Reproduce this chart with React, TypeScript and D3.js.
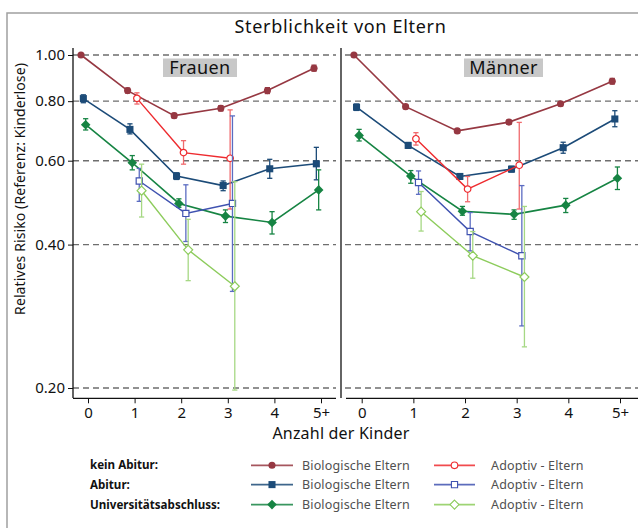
import React, { useEffect, useRef } from 'react';
import * as d3 from 'd3';

// Anzahl der Kinder
const kinder = ['0', '1', '2', '3', '4', '5+'];
const yTicks = [0.2, 0.4, 0.6, 0.8, 1.0];

// Frauen
const fKeinBio = [1.0, 0.842, 0.746, 0.773, 0.842, 0.938];
const fKeinBioLo = [null, 0.832, 0.738, 0.763, 0.83, 0.925];
const fKeinBioHi = [null, 0.852, 0.754, 0.783, 0.854, 0.952];
const fAbiBio = [0.81, 0.698, 0.557, 0.532, 0.577, 0.591];
const fAbiBioLo = [0.794, 0.683, 0.548, 0.519, 0.551, 0.547];
const fAbiBioHi = [0.825, 0.717, 0.566, 0.544, 0.604, 0.64];
const fUniBio = [0.714, 0.594, 0.488, 0.459, 0.445, 0.521];
const fUniBioLo = [0.696, 0.574, 0.479, 0.445, 0.421, 0.473];
const fUniBioHi = [0.735, 0.615, 0.499, 0.473, 0.469, 0.574];
const fKeinAdo = [null, 0.811, 0.624, 0.607, null, null];
const fKeinAdoLo = [null, 0.789, 0.59, 0.475, null, null];
const fKeinAdoHi = [null, 0.833, 0.661, 0.767, null, null];
const fAbiAdo = [null, 0.544, 0.465, 0.488, null, null];
const fAbiAdoLo = [null, 0.493, 0.406, 0.319, null, null];
const fAbiAdoHi = [null, 0.578, 0.534, 0.745, null, null];
const fUniAdo = [null, 0.519, 0.39, 0.327, null, null];
const fUniAdoLo = [null, 0.457, 0.336, 0.198, null, null];
const fUniAdoHi = [null, 0.59, 0.452, 0.542, null, null];

// Männer
const mKeinBio = [1.0, 0.779, 0.693, 0.723, 0.79, 0.881];
const mKeinBioLo = [null, 0.772, 0.687, 0.716, 0.782, 0.869];
const mKeinBioHi = [null, 0.786, 0.699, 0.73, 0.798, 0.893];
const mAbiBio = [0.777, 0.646, 0.556, 0.576, 0.639, 0.734];
const mAbiBioLo = [0.765, 0.637, 0.549, 0.568, 0.622, 0.707];
const mAbiBioHi = [0.789, 0.655, 0.563, 0.584, 0.656, 0.764];
const mUniBio = [0.678, 0.557, 0.47, 0.463, 0.484, 0.551];
const mUniBioLo = [0.66, 0.538, 0.461, 0.452, 0.467, 0.522];
const mUniBioHi = [0.698, 0.572, 0.481, 0.473, 0.5, 0.582];
const mKeinAdo = [null, 0.667, 0.523, 0.587, null, null];
const mKeinAdoLo = [null, 0.647, 0.492, 0.475, null, null];
const mKeinAdoHi = [null, 0.687, 0.556, 0.722, null, null];
const mAbiAdo = [null, 0.54, 0.426, 0.379, null, null];
const mAbiAdoLo = [null, 0.51, 0.388, 0.27, null, null];
const mAbiAdoHi = [null, 0.571, 0.467, 0.532, null, null];
const mUniAdo = [null, 0.469, 0.379, 0.342, null, null];
const mUniAdoLo = [null, 0.427, 0.34, 0.244, null, null];
const mUniAdoHi = [null, 0.517, 0.426, 0.481, null, null];

const gruppen = ['kein Abitur:', 'Abitur:', 'Universitätsabschluss:'];

const FONT = '"Noto Sans", "DejaVu Sans", sans-serif';

// style per series: bio (brown, navy, green), adoptive (red, blue, light green)
const styles = [
  { color: '#963842', bar: '#963842', shape: 'circle', filled: true, off: -0.15 },
  { color: '#1c4b78', bar: '#1c4b78', shape: 'square', filled: true, off: -0.1 },
  { color: '#168443', bar: '#168443', shape: 'diamond', filled: true, off: -0.05 },
  { color: '#ee2b2f', bar: '#f06a6d', shape: 'circle', filled: false, off: 0.05 },
  { color: '#3f52b0', bar: '#5b6cc2', shape: 'square', filled: false, off: 0.1 },
  { color: '#8dcc5c', bar: '#a6d884', shape: 'diamond', filled: false, off: 0.15 },
];

const markerPath = (shape, filled) => {
  if (shape === 'circle') return d3.symbol(d3.symbolCircle, filled ? 40 : 34)();
  if (shape === 'square') return d3.symbol(d3.symbolSquare, filled ? 50 : 38)();
  const r = filled ? 4.8 : 4.5;
  return `M0,${-r}L${r},0L0,${r}L${-r},0Z`;
};

const App = () => {
  const ref = useRef(null);

  useEffect(() => {
    const svg = d3.select(ref.current);
    svg.selectAll('*').remove();
    svg.style('font-family', FONT);

    const y = d3.scaleLog().domain([0.2, 1]).range([388, 55]);

    // outer frame
    svg.append('rect')
      .attr('x', 7).attr('y', 13).attr('width', 700).attr('height', 600)
      .attr('fill', 'none').attr('stroke', '#a0a0a0').attr('stroke-width', 1.5);

    svg.append('text')
      .attr('x', 340.5).attr('y', 33.3)
      .attr('text-anchor', 'middle').attr('font-size', 18).attr('letter-spacing', 0.7).attr('fill', '#111')
      .text('Sterblichkeit von Eltern');

    const panels = [
      {
        name: 'Frauen', range: [88, 321], span: [73, 336], vline: 73, box: [163, 237],
        series: [
          [fKeinBio, fKeinBioLo, fKeinBioHi], [fAbiBio, fAbiBioLo, fAbiBioHi], [fUniBio, fUniBioLo, fUniBioHi],
          [fKeinAdo, fKeinAdoLo, fKeinAdoHi], [fAbiAdo, fAbiAdoLo, fAbiAdoHi], [fUniAdo, fUniAdoLo, fUniAdoHi],
        ],
      },
      {
        name: 'Männer', range: [361.7, 620], span: [346, 640], vline: 341, box: [464, 543],
        series: [
          [mKeinBio, mKeinBioLo, mKeinBioHi], [mAbiBio, mAbiBioLo, mAbiBioHi], [mUniBio, mUniBioLo, mUniBioHi],
          [mKeinAdo, mKeinAdoLo, mKeinAdoHi], [mAbiAdo, mAbiAdoLo, mAbiAdoHi], [mUniAdo, mUniAdoLo, mUniAdoHi],
        ],
      },
    ];

    panels.forEach((p, pi) => {
      const x = d3.scalePoint().domain(kinder).range(p.range);
      const step = x.step();
      const g = svg.append('g');

      // dashed reference lines
      g.selectAll('.grid').data(yTicks).join('line')
        .attr('x1', pi === 0 ? p.span[0] : p.vline + 4).attr('x2', p.span[1])
        .attr('y1', d => y(d)).attr('y2', d => y(d))
        .attr('stroke', '#6e6e6e').attr('stroke-width', 1.4).attr('stroke-dasharray', '6,4');

      // panel label
      g.append('rect')
        .attr('x', p.box[0]).attr('y', 58.5).attr('width', p.box[1] - p.box[0]).attr('height', 18.5)
        .attr('fill', '#c8c8c8');
      g.append('text')
        .attr('x', (p.box[0] + p.box[1]) / 2).attr('y', 74)
        .attr('text-anchor', 'middle').attr('font-size', 18).attr('letter-spacing', 0.4).attr('fill', '#111')
        .text(p.name);

      // vertical axis line
      g.append('line')
        .attr('x1', p.vline).attr('x2', p.vline).attr('y1', 48).attr('y2', 398)
        .attr('stroke', '#111').attr('stroke-width', 1.3);

      if (pi === 0) {
        const ya = g.append('g').attr('transform', `translate(${p.vline},0)`)
          .call(d3.axisLeft(y).tickValues(yTicks).tickFormat(d3.format('.2f')).tickSize(5).tickPadding(3));
        ya.select('.domain').remove();
        ya.selectAll('text').attr('font-size', 15).attr('font-family', FONT).attr('fill', '#111');
        ya.selectAll('line').attr('stroke', '#111');
      }

      // x axis
      g.append('line')
        .attr('x1', p.span[0]).attr('x2', p.span[1]).attr('y1', 398.3).attr('y2', 398.3)
        .attr('stroke', '#111').attr('stroke-width', 1.3);
      const xa = g.append('g').attr('transform', 'translate(0,398.3)')
        .call(d3.axisBottom(x).tickSize(5).tickPadding(4));
      xa.select('.domain').remove();
      xa.selectAll('text').attr('font-size', 15).attr('font-family', FONT).attr('fill', '#111');
      xa.selectAll('line').attr('stroke', '#111');

      // series
      p.series.forEach(([vals, lo, hi], si) => {
        const st = styles[si];
        const pts = kinder.map((k, i) => ({ k, v: vals[i], lo: lo[i], hi: hi[i] }))
          .filter(d => d.v != null);
        const px = d => x(d.k) + st.off * step;
        const sg = g.append('g');

        const eb = pts.filter(d => d.lo != null);
        sg.selectAll('.eb').data(eb).join('line')
          .attr('x1', px).attr('x2', px).attr('y1', d => y(d.lo)).attr('y2', d => y(d.hi))
          .attr('stroke', st.bar).attr('stroke-width', 1.3);
        ['lo', 'hi'].forEach(key => {
          sg.selectAll('.cap' + key).data(eb).join('line')
            .attr('x1', d => px(d) - 2.6).attr('x2', d => px(d) + 2.6)
            .attr('y1', d => y(d[key])).attr('y2', d => y(d[key]))
            .attr('stroke', st.bar).attr('stroke-width', 1.3);
        });

        const line = d3.line().x(px).y(d => y(d.v));
        sg.append('path').attr('d', line(pts))
          .attr('fill', 'none').attr('stroke', st.color).attr('stroke-width', st.filled ? 1.6 : 1.4);

        sg.selectAll('.mk').data(pts).join('path')
          .attr('transform', d => `translate(${px(d)},${y(d.v)})`)
          .attr('d', markerPath(st.shape, st.filled))
          .attr('fill', st.filled ? st.color : 'white')
          .attr('stroke', st.color).attr('stroke-width', st.filled ? 0 : 1.2);
      });
    });

    // y label
    svg.append('text')
      .attr('transform', 'translate(25,189) rotate(-90)')
      .attr('text-anchor', 'middle').attr('font-size', 14).attr('letter-spacing', 0.1).attr('fill', '#111')
      .text('Relatives Risiko (Referenz: Kinderlose)');

    // x label
    svg.append('text')
      .attr('x', 341).attr('y', 438.5)
      .attr('text-anchor', 'middle').attr('font-size', 16).attr('letter-spacing', 0.2).attr('fill', '#111')
      .text('Anzahl der Kinder');

    // legend
    const rowsY = [465.3, 484.6, 504.6];
    const lg = svg.append('g');
    gruppen.forEach((label, i) => {
      lg.append('text').attr('x', 90).attr('y', rowsY[i] + 4)
        .attr('font-size', 11.6).attr('font-weight', 'bold').attr('fill', '#111')
        .text(label);
      [[i, 251, 293, 302, 'Biologische Eltern'], [i + 3, 434, 475, 491, 'Adoptiv - Eltern']]
        .forEach(([si, x1, x2, tx, txt]) => {
          const st = styles[si];
          lg.append('line').attr('x1', x1).attr('x2', x2).attr('y1', rowsY[i]).attr('y2', rowsY[i])
            .attr('stroke', st.color).attr('stroke-width', 1.8).attr('stroke-opacity', 0.85);
          lg.append('path')
            .attr('transform', `translate(${(x1 + x2) / 2},${rowsY[i]})`)
            .attr('d', markerPath(st.shape, st.filled))
            .attr('fill', st.filled ? st.color : 'white')
            .attr('stroke', st.color).attr('stroke-width', st.filled ? 0 : 1.1);
          lg.append('text').attr('x', tx).attr('y', rowsY[i] + 4.5)
            .attr('font-size', 12.5).attr('letter-spacing', 0.15).attr('fill', '#505050').text(txt);
        });
    });
  }, []);

  return (
    <svg ref={ref} width={638} height={528}
      style={{ position: 'absolute', left: 0, top: 0, display: 'block', background: 'white' }} />
  );
};

export default App;
